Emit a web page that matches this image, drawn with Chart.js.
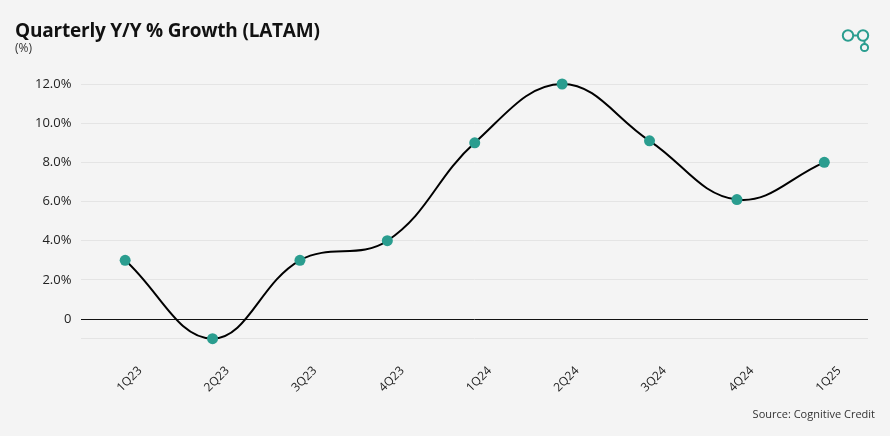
<!DOCTYPE html>
<html>
<head>
<meta charset="utf-8">
<script src="https://cdn.jsdelivr.net/npm/chart.js@4.4.1/dist/chart.umd.min.js"></script>
<style>
  html, body { margin: 0; padding: 0; background: #f4f4f4; }
  #wrap { position: relative; width: 890px; height: 436px; background: #f4f4f4; overflow: hidden; }
  #chart { position: absolute; left: 0; top: 0; }
  .title { position: absolute; left: 15px; top: 17px; font-family: "Open Sans", "Noto Sans", sans-serif; font-weight: 700; font-size: 19px; color: #111; letter-spacing: -0.2px; }
  .sub { position: absolute; left: 15px; top: 39px; font-family: "Open Sans", "Noto Sans", sans-serif; font-size: 12px; color: #333; }
  .source { position: absolute; right: 15px; top: 406px; font-family: "Open Sans", "Noto Sans", sans-serif; font-size: 11px; color: #333; }
  .logo { position: absolute; left: 840px; top: 26px; }
</style>
</head>
<body>
<div id="wrap">
  <canvas id="chart" width="890" height="436"></canvas>
  <div class="title">Quarterly Y/Y % Growth (LATAM)</div>
  <div class="sub">(%)</div>
  <div class="source">Source: Cognitive Credit</div>
  <svg class="logo" width="34" height="30" viewBox="0 0 34 30">
    <circle cx="8" cy="9.5" r="5.2" fill="none" stroke="#2a9d8f" stroke-width="2"/>
    <circle cx="23" cy="9.5" r="5.2" fill="none" stroke="#2a9d8f" stroke-width="2"/>
    <line x1="13" y1="9.5" x2="18" y2="9.5" stroke="#2a9d8f" stroke-width="2"/>
    <line x1="24.5" y1="14.5" x2="24.5" y2="18" stroke="#2a9d8f" stroke-width="2"/>
    <circle cx="24.5" cy="21.5" r="3.6" fill="none" stroke="#2a9d8f" stroke-width="2"/>
  </svg>
</div>
<script>
const categories = ['1Q23', '2Q23', '3Q23', '4Q23', '1Q24', '2Q24', '3Q24', '4Q24', '1Q25'];
const growthValues = [3, -1, 3, 4, 9, 12, 9.1, 6.1, 8];
const yMin = -1;
const yMax = 12;
const yStep = 2;

const ctx = document.getElementById('chart').getContext('2d');
new Chart(ctx, {
  type: 'line',
  data: {
    labels: categories,
    datasets: [{
      data: growthValues,
      borderColor: '#000000',
      borderWidth: 2,
      tension: 0.4,
      clip: false,
      pointRadius: 5.5,
      pointHoverRadius: 5.5,
      pointBackgroundColor: '#2a9d8f',
      pointBorderColor: '#2a9d8f',
      pointBorderWidth: 0,
      fill: false
    }]
  },
  options: {
    responsive: false,
    animation: false,
    devicePixelRatio: 1,
    layout: { padding: { left: 25, right: 22, top: 84, bottom: 16 } },
    plugins: { legend: { display: false }, tooltip: { enabled: false } },
    scales: {
      x: {
        offset: true,
        grid: { display: false, drawTicks: false },
        border: { display: false },
        ticks: {
          maxRotation: 45, minRotation: 45,
          padding: 25,
          labelOffset: 15,
          color: '#222',
          font: { family: '"Open Sans", "Noto Sans", sans-serif', size: 12 }
        }
      },
      y: {
        min: yMin, max: yMax,
        grid: {
          drawTicks: false,
          color: (c) => c.tick && c.tick.value === 0 ? '#111' : '#e4e4e4',
          lineWidth: 1
        },
        border: { display: false },
        ticks: {
          stepSize: yStep,
          padding: 10,
          color: '#222',
          font: { family: '"Open Sans", "Noto Sans", sans-serif', size: 13 },
          callback: (v) => v === yMin ? '' : (v === 0 ? '0' : v.toFixed(1) + '%')
        }
      }
    }
  }
});
</script>
</body>
</html>
